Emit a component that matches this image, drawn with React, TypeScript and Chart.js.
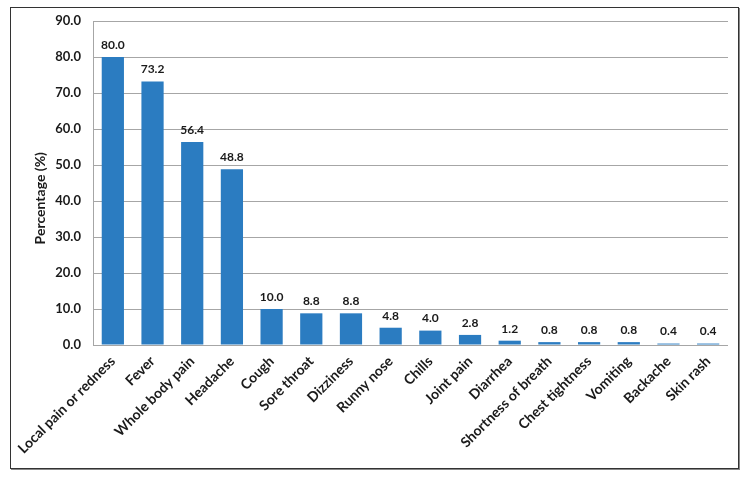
import React, { useEffect, useRef } from "react";
import { Chart, registerables } from "chart.js";

Chart.register(...registerables);

const categories = [
  "Local pain or redness",
  "Fever",
  "Whole body pain",
  "Headache",
  "Cough",
  "Sore throat",
  "Dizziness",
  "Runny nose",
  "Chills",
  "Joint pain",
  "Diarrhea",
  "Shortness of breath",
  "Chest tightness",
  "Vomiting",
  "Backache",
  "Skin rash",
];
const percentages = [80.0, 73.2, 56.4, 48.8, 10.0, 8.8, 8.8, 4.8, 4.0, 2.8, 1.2, 0.8, 0.8, 0.8, 0.4, 0.4];
const yAxisTitle = "Percentage (%)";
const yMin = 0;
const yMax = 90;
const yStep = 10;

const FONT = "Lato, 'Liberation Sans', sans-serif";
const BAR_COLOR = "#2B7CC1";
const TEXT_COLOR = "#1a1a1a";

const valueLabels = {
  id: "valueLabels",
  afterDatasetsDraw(chart: any) {
    const ctx = chart.ctx;
    const meta = chart.getDatasetMeta(0);
    const data = chart.data.datasets[0].data as number[];
    ctx.save();
    ctx.font = `bold 12px ${FONT}`;
    ctx.fillStyle = TEXT_COLOR;
    ctx.textAlign = "center";
    ctx.textBaseline = "bottom";
    meta.data.forEach((el: any, i: number) => {
      ctx.fillText(data[i].toFixed(1), el.x, el.y - 6);
    });
    ctx.restore();
  },
};

const yTitlePlugin = {
  id: "yTitle",
  afterDraw(chart: any) {
    const ctx = chart.ctx;
    const area = chart.chartArea;
    ctx.save();
    ctx.translate(40, area.top + (area.bottom - area.top) * 0.547);
    ctx.rotate(-Math.PI / 2);
    ctx.font = `bold 14px ${FONT}`;
    ctx.fillStyle = TEXT_COLOR;
    ctx.textAlign = "center";
    ctx.textBaseline = "middle";
    ctx.fillText(yAxisTitle, 0, 0);
    ctx.restore();
  },
};

export default function App() {
  const ref = useRef<HTMLCanvasElement | null>(null);

  useEffect(() => {
    document.body.style.margin = "0";
    if (!ref.current) return;
    const chart = new Chart(ref.current, {
      type: "bar",
      data: {
        labels: categories,
        datasets: [
          {
            data: percentages,
            backgroundColor: BAR_COLOR,
            borderWidth: 0,
            barPercentage: 0.56,
            categoryPercentage: 1,
          },
        ],
      },
      options: {
        animation: false,
        responsive: false,
        maintainAspectRatio: false,
        layout: { padding: { top: 21, right: 20, bottom: 0, left: 0 } },
        plugins: {
          legend: { display: false },
          tooltip: { enabled: false },
        },
        scales: {
          x: {
            grid: { display: false, drawTicks: false },
            border: { display: false },
            ticks: {
              color: TEXT_COLOR,
              font: { family: FONT, size: 14, weight: "bold" },
              minRotation: 45,
              maxRotation: 45,
              padding: 8,
              autoSkip: false,
            },
            afterFit: (s: any) => {
              s.height = 132;
            },
          },
          y: {
            min: yMin,
            max: yMax,
            grid: { color: "#A6A6A6", lineWidth: 1, drawTicks: false },
            border: { display: true, color: "#A6A6A6", width: 1 },
            ticks: {
              stepSize: yStep,
              color: TEXT_COLOR,
              font: { family: FONT, size: 13, weight: "bold" },
              padding: 12,
              callback: (v: any) => Number(v).toFixed(1),
            },
            afterFit: (s: any) => {
              s.width = 93;
            },
          },
        },
      },
      plugins: [valueLabels, yTitlePlugin],
    });
    return () => chart.destroy();
  }, []);

  return (
    <div style={{ position: "relative", width: 748, height: 477, background: "#fff" }}>
      <canvas ref={ref} width={748} height={477} style={{ position: "absolute", left: 0, top: 0 }} />
      <div
        style={{
          position: "absolute",
          left: 10,
          top: 7,
          width: 727,
          height: 460,
          border: "1px solid #333",
          boxShadow: "1px 1px 0 #888",
          pointerEvents: "none",
        }}
      />
    </div>
  );
}
